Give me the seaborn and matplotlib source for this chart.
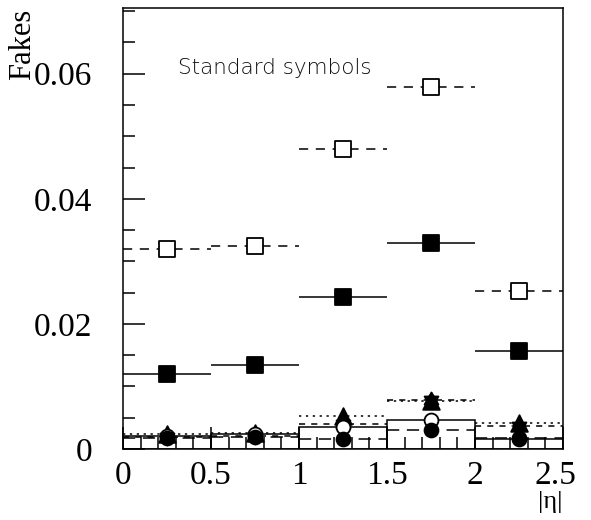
import matplotlib
matplotlib.use("Agg")
import matplotlib.pyplot as plt
from matplotlib.path import Path
from matplotlib.transforms import ScaledTranslation
from matplotlib.ticker import MultipleLocator, FixedLocator, FixedFormatter
import numpy as np
import seaborn as sns

# |eta| binning
eta_centres = [0.25, 0.75, 1.25, 1.75, 2.25]
half_width = 0.25

# fake rates per |eta| bin, one list per marker style
open_square = [0.0320, 0.0325, 0.0479, 0.0579, 0.0253]
full_square = [0.0120, 0.0134, 0.0243, 0.0330, 0.0157]
full_triangle = [0.0024, 0.0026, 0.0053, 0.0077, 0.0041]
full_star = [0.0019, 0.0021, 0.0040, 0.0078, 0.0036]
open_circle = [0.0021, 0.0024, 0.0035, 0.0046, 0.0016]
full_circle = [0.0018, 0.0019, 0.0016, 0.0030, 0.0018]

x_ticks = [0, 0.5, 1, 1.5, 2, 2.5]
x_tick_labels = ["0", "0.5", "1", "1.5", "2", "2.5"]
y_ticks = [0, 0.02, 0.04, 0.06]
y_tick_labels = ["0", "0.02", "0.04", "0.06"]

sns.set_style("white")
plt.rcParams["font.family"] = ["Liberation Serif", "DejaVu Serif"]
plt.rcParams["text.color"] = "black"
plt.rcParams["xtick.color"] = "black"
plt.rcParams["ytick.color"] = "black"

W, H = 591, 520
fig = plt.figure(figsize=(W / 100, H / 100), dpi=100)
ax = fig.add_axes([123 / W, 1 - 449 / H, 440 / W, 441 / H])

LW = 1.1
xerr = [half_width] * len(eta_centres)


def bars(values, style):
    lc = ax.errorbar(eta_centres, values, xerr=xerr, fmt="none", ecolor="black",
                     elinewidth=LW, capsize=0, zorder=2)[2][0]
    lc.set_linestyle(style)


# horizontal bin-width bars
bars(open_square, (0, (6, 5)))
bars(full_square, "-")
bars(full_triangle, (0, (1.5, 3)))
bars(full_star, (0, (4, 4)))
bars(full_circle, (0, (8, 5)))
# open-circle rates drawn as an outlined histogram
ax.bar(eta_centres, open_circle, width=2 * half_width, fill=False,
       edgecolor="black", linewidth=LW, zorder=2)

# six-pointed star: two overlapping triangles
up = [(np.cos(a), np.sin(a)) for a in np.radians([90, 210, 330])]
down = [(np.cos(a), np.sin(a)) for a in np.radians([270, 30, 150])]
star_verts = up + [up[0]] + down + [down[0]]
star_codes = ([Path.MOVETO, Path.LINETO, Path.LINETO, Path.CLOSEPOLY]) * 2
star6 = Path(star_verts, star_codes)


def marks(values, marker, size, filled=True):
    sns.scatterplot(x=eta_centres, y=values, ax=ax, marker=marker, s=size ** 2,
                    color="black" if filled else "white", edgecolor="black",
                    linewidth=1.3, zorder=4, legend=False)


marks(open_square, "s", 11, filled=False)
marks(full_square, "s", 11)
marks(full_triangle, "^", 12)
marks(full_star, star6, 11.5)
marks(open_circle, "o", 10, filled=False)
marks(full_circle, "o", 10)

ax.set_xlim(0, 2.5)
ax.set_ylim(0, 0.0705)
ax.xaxis.set_major_locator(FixedLocator(x_ticks))
ax.xaxis.set_major_formatter(FixedFormatter(x_tick_labels))
ax.yaxis.set_major_locator(FixedLocator(y_ticks))
ax.yaxis.set_major_formatter(FixedFormatter(y_tick_labels))
ax.xaxis.set_minor_locator(MultipleLocator(0.1))
ax.yaxis.set_minor_locator(MultipleLocator(0.005))

ax.tick_params(axis="both", which="both", direction="in", bottom=True, left=True,
               top=False, right=False, width=LW, color="black",
               labelcolor="black", labelsize=24)
ax.tick_params(axis="both", which="major", length=16)
ax.tick_params(axis="both", which="minor", length=8.5)
ax.tick_params(axis="y", which="major", pad=22)
ax.tick_params(axis="x", which="major", pad=8.5)
for s in ax.spines.values():
    s.set_linewidth(LW)
    s.set_color("black")
ax.set_xlabel("")
ax.set_ylabel("")

# keep the last x label inside the frame edge
last = ax.xaxis.get_major_ticks()[-1].label1
last.set_transform(last.get_transform() + ScaledTranslation(-8 / 100, 0, fig.dpi_scale_trans))

ax.text(0.31, 0.0600, "Standard symbols", family="DejaVu Sans", fontsize=15.5,
        fontweight="light", color="#111111", va="baseline", ha="left")

fig.text(23 / W, 1 - 9 / H, "Fakes", rotation=90, ha="center", va="top", fontsize=22)
fig.text(563 / W, 1 - 491 / H, "|η|", ha="right", va="top", fontsize=19)

fig.savefig("out.png", dpi=100)
